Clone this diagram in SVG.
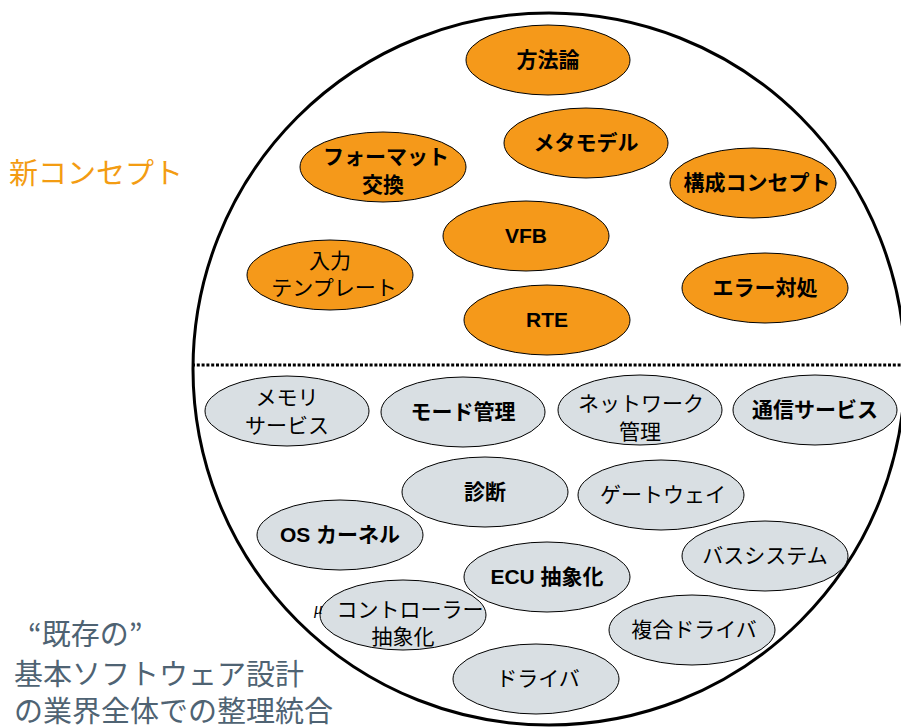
<svg xmlns="http://www.w3.org/2000/svg" width="901" height="728" viewBox="0 0 901 728">
<style>
.o{fill:#F5991A;stroke:#000;stroke-width:1}
.g{fill:#D9DFE3;stroke:#000;stroke-width:1}
.t{font-family:"Liberation Sans","Noto Sans CJK JP",sans-serif;font-size:21px;fill:#000;text-anchor:middle}
.b{font-weight:bold}
.side{font-family:"Noto Sans CJK JP",sans-serif;font-size:29px}
</style>
<rect width="901" height="728" fill="#fff"/>
<g id="frame">
<circle cx="549" cy="369" r="356" fill="none" stroke="#000" stroke-width="3"/>
<line x1="192" y1="365" x2="901" y2="365" stroke="#000" stroke-width="3" stroke-dasharray="3 1.8"/>
</g>
<g id="labels">
<text class="side" x="9" y="184" fill="#F39C12">新コンセプト</text>
<text class="side" x="28" y="645" fill="#4F6373">“既存の”</text>
<text class="side" x="14" y="685" fill="#4F6373">基本ソフトウェア設計</text>
<text class="side" x="14" y="722" fill="#4F6373">の業界全体での整理統合</text>
</g>
<g id="n-houhouron"><ellipse class="o" cx="548" cy="60" rx="82" ry="35"/><text class="t b" x="548" y="67">方法論</text></g>
<g id="n-metamodel"><ellipse class="o" cx="586" cy="143" rx="82" ry="35"/><text class="t b" x="586" y="150">メタモデル</text></g>
<g id="n-format"><ellipse class="o" cx="383" cy="167" rx="83" ry="35"/><text class="t b" x="386" y="164">フォーマット</text><text class="t b" x="383" y="192">交換</text></g>
<g id="n-kousei"><ellipse class="o" cx="753" cy="183" rx="83" ry="35"/><text class="t b" x="757" y="190">構成コンセプト</text></g>
<g id="n-vfb"><ellipse class="o" cx="526" cy="236" rx="83" ry="35"/><text class="t b" x="526" y="243">VFB</text></g>
<g id="n-input"><ellipse class="o" cx="330" cy="275" rx="83" ry="35"/><text class="t" x="330" y="268">入力</text><text class="t" x="334" y="295">テンプレート</text></g>
<g id="n-error"><ellipse class="o" cx="765" cy="288" rx="83" ry="35"/><text class="t b" x="765" y="295">エラー対処</text></g>
<g id="n-rte"><ellipse class="o" cx="547" cy="320" rx="83" ry="35"/><text class="t b" x="547" y="327">RTE</text></g>
<g id="n-memory"><ellipse class="g" cx="287" cy="411" rx="82" ry="35"/><text class="t" x="287" y="405">メモリ</text><text class="t" x="287" y="433">サービス</text></g>
<g id="n-mode"><ellipse class="g" cx="463" cy="412" rx="82" ry="35"/><text class="t b" x="463" y="419">モード管理</text></g>
<g id="n-network"><ellipse class="g" cx="640" cy="410" rx="82" ry="35"/><text class="t" x="641" y="411">ネットワーク</text><text class="t" x="640" y="439">管理</text></g>
<g id="n-comm"><ellipse class="g" cx="815" cy="410" rx="82" ry="35"/><text class="t b" x="815" y="417">通信サービス</text></g>
<g id="n-diag"><ellipse class="g" cx="485" cy="492" rx="83" ry="35"/><text class="t b" x="485" y="499">診断</text></g>
<g id="n-gateway"><ellipse class="g" cx="661" cy="495" rx="83" ry="35"/><text class="t" x="663" y="502">ゲートウェイ</text></g>
<g id="n-os"><ellipse class="g" cx="340" cy="535" rx="83" ry="35"/><text class="t b" x="340" y="542">OS カーネル</text></g>
<g id="n-bus"><ellipse class="g" cx="765" cy="556" rx="83" ry="35"/><text class="t" x="765" y="563">バスシステム</text></g>
<g id="n-ecu"><ellipse class="g" cx="547" cy="577" rx="83" ry="35"/><text class="t b" x="547" y="584">ECU 抽象化</text></g>
<g id="n-micro"><ellipse class="g" cx="403" cy="615" rx="83" ry="35"/><text x="314" y="614" font-family="Liberation Serif,serif" font-style="italic" font-size="17" fill="#000">μ</text><text class="t" x="410" y="617">コントローラー</text><text class="t" x="403" y="644">抽象化</text></g>
<g id="n-complex"><ellipse class="g" cx="692" cy="630" rx="83" ry="35"/><text class="t" x="694" y="637">複合ドライバ</text></g>
<g id="n-driver"><ellipse class="g" cx="536" cy="679" rx="83" ry="35"/><text class="t" x="538" y="686">ドライバ</text></g>
<g id="connectors"/>
</svg>
